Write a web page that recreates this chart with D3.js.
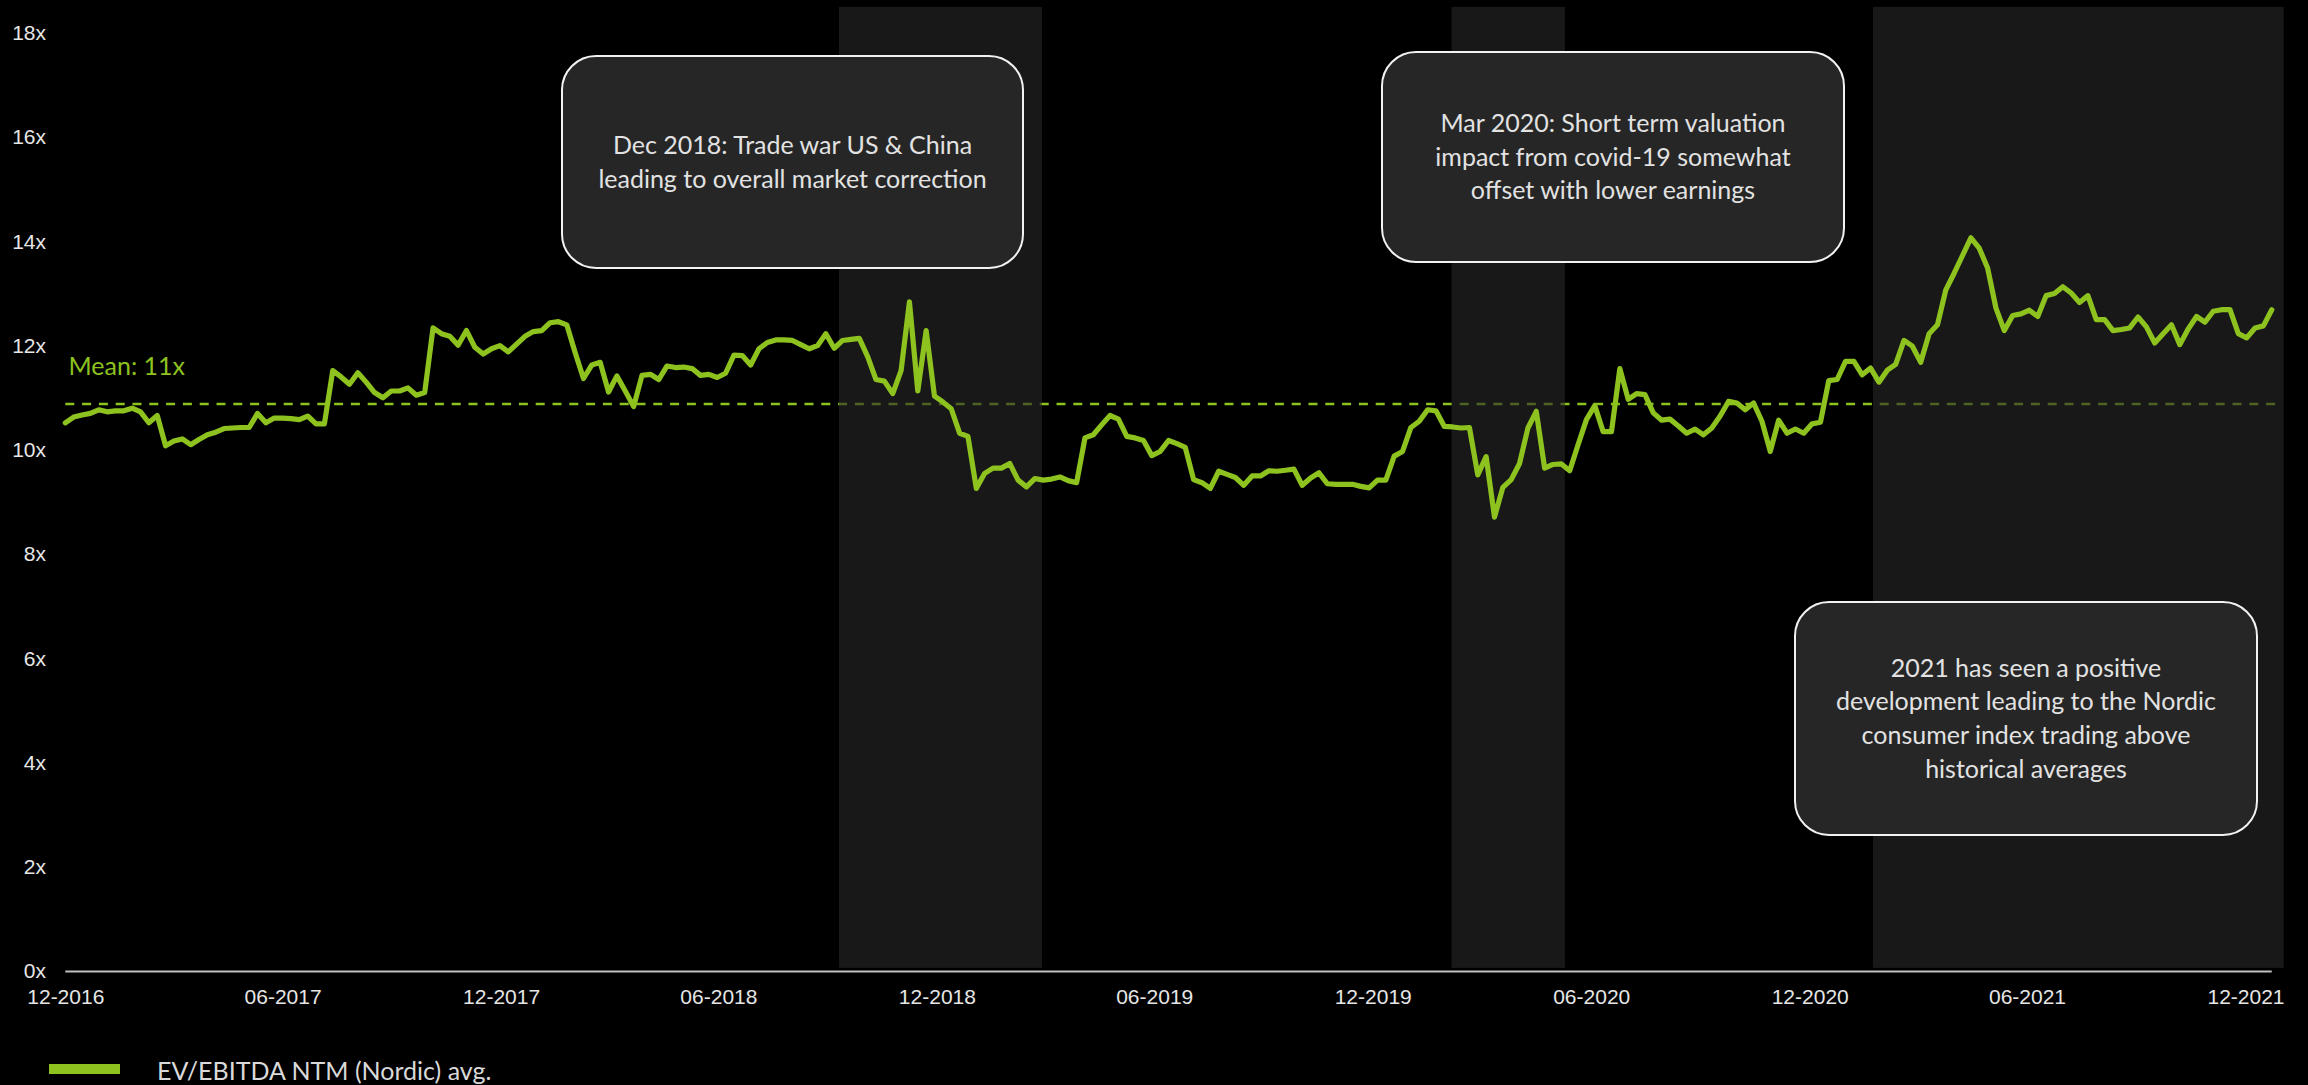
<!DOCTYPE html>
<html>
<head>
<meta charset="utf-8">
<script src="https://cdn.jsdelivr.net/npm/d3@7"></script>
<style>
  html, body { margin: 0; padding: 0; background: #000; }
  svg { display: block; }
</style>
</head>
<body>
<svg id="chart" width="2308" height="1085"></svg>
<script>
// ---- Data -------------------------------------------------------------
// Weekly EV/EBITDA NTM multiple, Nordic consumer index average
const seriesStart = "2016-12-01";
const evEbitda = [
  10.52, 10.63, 10.67, 10.70, 10.77, 10.73, 10.75, 10.75, 10.80, 10.73,
  10.52, 10.66, 10.08, 10.17, 10.21, 10.10, 10.20, 10.29, 10.34, 10.41,
  10.42, 10.43, 10.43, 10.70, 10.52, 10.61, 10.61, 10.60, 10.58, 10.65,
  10.50, 10.50, 11.52, 11.40, 11.26, 11.48, 11.30, 11.10, 11.00, 11.13,
  11.13, 11.19, 11.05, 11.10, 12.34, 12.23, 12.18, 12.01, 12.29, 11.97,
  11.84, 11.94, 12.00, 11.88, 12.03, 12.18, 12.27, 12.29, 12.44, 12.46,
  12.40, 11.87, 11.37, 11.63, 11.68, 11.11, 11.42, 11.13, 10.83, 11.43,
  11.45, 11.35, 11.61, 11.58, 11.59, 11.56, 11.43, 11.45, 11.39, 11.47,
  11.82, 11.81, 11.63, 11.94, 12.06, 12.11, 12.11, 12.10, 12.02, 11.94,
  12.00, 12.23, 11.95, 12.10, 12.12, 12.14, 11.79, 11.35, 11.32, 11.08,
  11.52, 12.84, 11.13, 12.29, 11.03, 10.92, 10.79, 10.32, 10.26, 9.26,
  9.55, 9.65, 9.65, 9.74, 9.42, 9.29, 9.45, 9.42, 9.44, 9.48,
  9.41, 9.37, 10.23, 10.29, 10.48, 10.66, 10.59, 10.26, 10.23, 10.18,
  9.89, 9.97, 10.18, 10.12, 10.05, 9.43, 9.37, 9.26, 9.59, 9.53,
  9.47, 9.32, 9.50, 9.50, 9.60, 9.59, 9.61, 9.63, 9.32, 9.46,
  9.56, 9.35, 9.34, 9.34, 9.34, 9.30, 9.27, 9.42, 9.42, 9.88,
  9.97, 10.43, 10.55, 10.77, 10.75, 10.45, 10.44, 10.42, 10.43, 9.52,
  9.87, 8.71, 9.28, 9.43, 9.74, 10.42, 10.74, 9.65, 9.72, 9.73,
  9.60, 10.10, 10.58, 10.85, 10.35, 10.35, 11.56, 10.97, 11.08, 11.06,
  10.71, 10.57, 10.59, 10.46, 10.32, 10.40, 10.29, 10.42, 10.65, 10.93,
  10.90, 10.77, 10.90, 10.55, 9.97, 10.57, 10.32, 10.40, 10.32, 10.50,
  10.53, 11.33, 11.35, 11.70, 11.70, 11.44, 11.57, 11.30, 11.53, 11.64,
  12.10, 11.99, 11.68, 12.23, 12.40, 13.07, 13.39, 13.73, 14.07, 13.87,
  13.49, 12.72, 12.29, 12.58, 12.61, 12.68, 12.56, 12.96, 13.00, 13.13,
  13.01, 12.83, 12.96, 12.50, 12.50, 12.29, 12.31, 12.34, 12.55, 12.36,
  12.05, 12.23, 12.40, 12.02, 12.32, 12.56, 12.45, 12.66, 12.69, 12.69,
  12.23, 12.15, 12.34, 12.38, 12.69
];
const seriesName = "EV/EBITDA NTM (Nordic) avg.";

const meanValue = 10.88;
const meanLabel = "Mean: 11x";

const yTicks = [0, 2, 4, 6, 8, 10, 12, 14, 16, 18];
const xTickDates = ["2016-12-01", "2017-06-01", "2017-12-01", "2018-06-01", "2018-12-01",
                    "2019-06-01", "2019-12-01", "2020-06-01", "2020-12-01", "2021-06-01", "2021-12-01"];
const xTickLabels = ["12-2016", "06-2017", "12-2017", "06-2018", "12-2018",
                     "06-2019", "12-2019", "06-2020", "12-2020", "06-2021", "12-2021"];

// Highlighted periods
const bandStarts = ["2018-09-10", "2020-02-05", "2021-01-23"];
const bandEnds   = ["2019-02-27", "2020-05-10", "2022-01-02"];

// Commentary boxes
const noteTexts = [
  ["Dec 2018: Trade war US & China", "leading to overall market correction"],
  ["Mar 2020: Short term valuation", "impact from covid-19 somewhat", "offset with lower earnings"],
  ["2021 has seen a positive", "development leading to the Nordic", "consumer index trading above", "historical averages"]
];

// ---- Drawing ----------------------------------------------------------
const svg = d3.select("#chart");
const W = 2308, H = 1085;
const green = "#8dc21f";
const bodyFont = "Lato, 'Open Sans', sans-serif";
const axisFont = "'Liberation Sans', Arial, sans-serif";

svg.append("rect").attr("width", W).attr("height", H).attr("fill", "#000");

const parse = d3.utcParse("%Y-%m-%d");
const start = parse(seriesStart);
const points = evEbitda.map((v, i) => ({ date: d3.utcDay.offset(start, 7 * i), value: v }));

const x = d3.scaleUtc()
  .domain([parse("2016-12-01"), parse("2021-12-01")])
  .range([65.3, 2245.5]);
const y = d3.scaleLinear().domain([0, 18]).range([971, 33]);

// Y axis labels
const yAxis = d3.axisLeft(y)
  .tickValues(yTicks)
  .tickFormat(d => d + "x")
  .tickSize(0)
  .tickPadding(19);
const gy = svg.append("g").attr("transform", "translate(65,0)").call(yAxis);
gy.select(".domain").remove();
gy.selectAll("text")
  .attr("fill", "#e6e6e6")
  .style("font-family", axisFont)
  .style("font-size", "21px");

// Mean line (dashed), drawn beneath the highlight bands
const xFirst = x(points[0].date), xLast = x(points[points.length - 1].date);
svg.append("line")
  .attr("x1", xFirst).attr("x2", x(parse(bandEnds[2])) - 2)
  .attr("y1", y(meanValue)).attr("y2", y(meanValue))
  .attr("stroke", green)
  .attr("stroke-width", 2.4)
  .attr("stroke-dasharray", "9,7.8");

// Highlight bands
const bands = bandStarts.map((s, i) => ({ s: parse(s), e: parse(bandEnds[i]) }));
svg.append("g").selectAll("rect").data(bands).join("rect")
  .attr("x", d => x(d.s))
  .attr("width", d => x(d.e) - x(d.s))
  .attr("y", y(18.5))
  .attr("height", y(0.06) - y(18.5))
  .attr("fill", "#262626")
  .attr("fill-opacity", 0.62);

// X axis
const xAxis = d3.axisBottom(x)
  .tickValues(xTickDates.map(parse))
  .tickFormat((d, i) => xTickLabels[i])
  .tickSize(0)
  .tickPadding(17.5);
const gx = svg.append("g").attr("transform", "translate(0,971.5)").call(xAxis);
gx.select(".domain").remove();
gx.selectAll("text")
  .attr("fill", "#e6e6e6")
  .style("font-family", axisFont)
  .style("font-size", "21px");
svg.append("line")
  .attr("x1", xFirst).attr("x2", xLast)
  .attr("y1", 971.5).attr("y2", 971.5)
  .attr("stroke", "#bfbfbf")
  .attr("stroke-width", 2);

// Series line
const line = d3.line().x(d => x(d.date)).y(d => y(d.value));
svg.append("path")
  .datum(points)
  .attr("d", line)
  .attr("fill", "none")
  .attr("stroke", green)
  .attr("stroke-width", 5.2)
  .attr("stroke-linejoin", "round")
  .attr("stroke-linecap", "round");

// Mean label
svg.append("text")
  .attr("x", 68.5).attr("y", 375)
  .attr("fill", green)
  .style("font-family", bodyFont)
  .style("font-size", "25px")
  .text(meanLabel);

// Commentary boxes
const boxLayout = [
  { x: 562, y: 56, w: 461, h: 212 },
  { x: 1382, y: 52, w: 462, h: 210 },
  { x: 1795, y: 602, w: 462, h: 233 }
];
const lineGap = 33.7;
noteTexts.forEach((lines, k) => {
  const b = boxLayout[k];
  const g = svg.append("g");
  g.append("rect")
    .attr("x", b.x).attr("y", b.y)
    .attr("width", b.w).attr("height", b.h)
    .attr("rx", 34).attr("ry", 34)
    .attr("fill", "#262626")
    .attr("stroke", "#f2f2f2")
    .attr("stroke-width", 2);
  const cx = b.x + b.w / 2, cy = b.y + b.h / 2;
  const first = cy - (lines.length - 1) * lineGap / 2;
  g.selectAll("text").data(lines).join("text")
    .attr("x", cx)
    .attr("y", (d, i) => first + i * lineGap + 8.7)
    .attr("text-anchor", "middle")
    .attr("fill", "#e2e2e2")
    .style("font-family", bodyFont)
    .style("font-size", "25px")
    .text(d => d);
});

// Legend
svg.append("rect")
  .attr("x", 49).attr("y", 1064)
  .attr("width", 71).attr("height", 10)
  .attr("fill", green);
svg.append("text")
  .attr("x", 157).attr("y", 1080)
  .attr("fill", "#d9d9d9")
  .style("font-family", bodyFont)
  .style("font-size", "25px")
  .text(seriesName);
</script>
</body>
</html>
